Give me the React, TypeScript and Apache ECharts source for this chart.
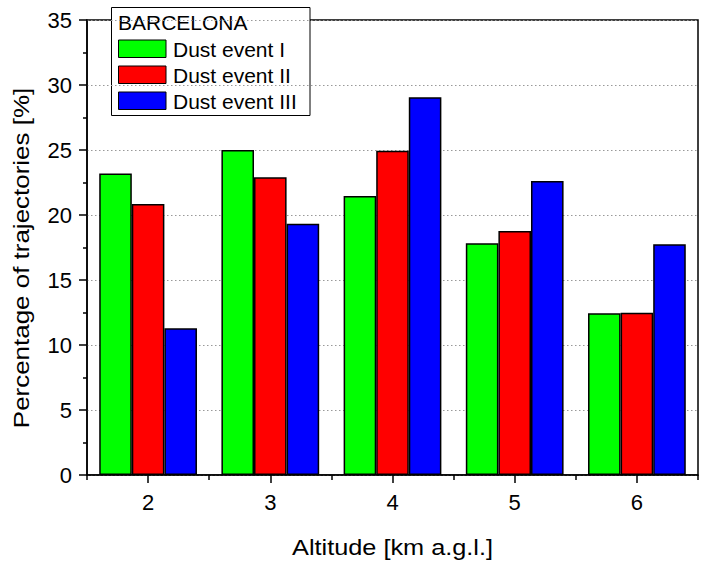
import React, { useEffect, useRef } from "react";
import * as echarts from "echarts";

// Altitude classes (km a.g.l.)
const altitudes = ["2", "3", "4", "5", "6"];

// Percentage of back-trajectories arriving at each altitude
const dustEventI = [23.2, 25.0, 21.46, 17.82, 12.44];
const dustEventII = [20.85, 22.9, 24.95, 18.77, 12.48];
const dustEventIII = [11.28, 19.33, 29.05, 22.62, 17.75];

const seriesNames = ["Dust event I", "Dust event II", "Dust event III"];
const seriesColors = ["#00ff00", "#ff0000", "#0000ff"];
const seriesData = [dustEventI, dustEventII, dustEventIII];

const legendTitle = "BARCELONA";
const xTitle = "Altitude [km a.g.l.]";
const yTitle = "Percentage of trajectories [%]";

const FONT = "'Liberation Sans', Arial, Helvetica, sans-serif";

export default function App() {
  const ref = useRef<HTMLDivElement>(null);

  useEffect(() => {
    if (!ref.current) return;
    const chart = echarts.init(ref.current, undefined, { renderer: "svg" });

    const legendItems: any[] = [];
    seriesNames.forEach((name, i) => {
      const y = 40 + i * 26;
      legendItems.push({
        type: "rect",
        shape: { x: 118.5, y, width: 47.5, height: 17.5 },
        style: { fill: seriesColors[i], stroke: "#000", lineWidth: 1 },
      });
      legendItems.push({
        type: "text",
        x: 173,
        y: y + 9.5,
        style: {
          text: name,
          font: `21px ${FONT}`,
          fill: "#000",
          textAlign: "left",
          textVerticalAlign: "middle",
        },
      });
    });

    chart.setOption({
      animation: false,
      backgroundColor: "#fff",
      grid: {
        left: 87,
        right: 4,
        top: 20,
        bottom: 86,
        show: true,
        borderColor: "#000",
        borderWidth: 1.5,
        backgroundColor: "transparent",
      },
      xAxis: [
        {
          type: "category",
          position: "bottom",
          data: altitudes,
          boundaryGap: true,
          axisLine: { show: true, lineStyle: { color: "#000", width: 1.5 } },
          axisTick: { show: true, length: 5, lineStyle: { color: "#000", width: 1.5 } },
          axisLabel: {
            show: true,
            fontSize: 22,
            fontFamily: FONT,
            color: "#000",
            margin: 16,
          },
          splitLine: { show: false },
        },
        {
          type: "category",
          position: "bottom",
          data: altitudes,
          boundaryGap: true,
          axisLine: { show: false },
          axisTick: {
            show: true,
            alignWithLabel: true,
            length: 8,
            lineStyle: { color: "#000", width: 1.5 },
          },
          axisLabel: { show: false },
          splitLine: { show: false },
        },
      ],
      yAxis: {
        type: "value",
        min: 0,
        max: 35,
        interval: 5,
        axisLine: { show: true, lineStyle: { color: "#000", width: 1.5 } },
        axisTick: { show: true, length: 8, lineStyle: { color: "#000", width: 1.5 } },
        minorTick: { show: true, splitNumber: 2, length: 4, lineStyle: { color: "#000", width: 1.5 } },
        axisLabel: {
          fontSize: 22,
          fontFamily: FONT,
          color: "#000",
          margin: 15,
        },
        splitLine: {
          show: true,
          lineStyle: { color: "#999999", width: 1, type: [1.5, 2.5] },
        },
      },
      series: seriesNames.map((name, i) => ({
        name,
        type: "bar",
        xAxisIndex: 0,
        data: seriesData[i],
        barGap: "0%",
        barCategoryGap: "20%",
        itemStyle: {
          color: seriesColors[i],
          borderColor: "#000",
          borderWidth: 1.5,
        },
      })),
      graphic: [
        {
          type: "text",
          x: 392.5,
          y: 548,
          scaleX: 1.15,
          style: {
            text: xTitle,
            font: `22px ${FONT}`,
            fill: "#000",
            textAlign: "center",
            textVerticalAlign: "middle",
          },
        },
        {
          type: "text",
          x: 21.5,
          y: 258,
          rotation: Math.PI / 2,
          scaleX: 1.18,
          style: {
            text: yTitle,
            font: `22px ${FONT}`,
            fill: "#000",
            textAlign: "center",
            textVerticalAlign: "middle",
          },
        },
        {
          type: "group",
          z: 100,
          children: [
            {
              type: "rect",
              shape: { x: 111.5, y: 7.5, width: 198.5, height: 108 },
              style: { fill: "#fff", stroke: "#000", lineWidth: 1 },
            },
            {
              type: "text",
              x: 118,
              y: 22,
              style: {
                text: legendTitle,
                font: `21px ${FONT}`,
                fill: "#000",
                textAlign: "left",
                textVerticalAlign: "middle",
              },
            },
            ...legendItems,
          ],
        },
      ],
    });

    return () => chart.dispose();
  }, []);

  return <div ref={ref} style={{ width: 702, height: 561, position: "absolute", left: 0, top: 0 }} />;
}
